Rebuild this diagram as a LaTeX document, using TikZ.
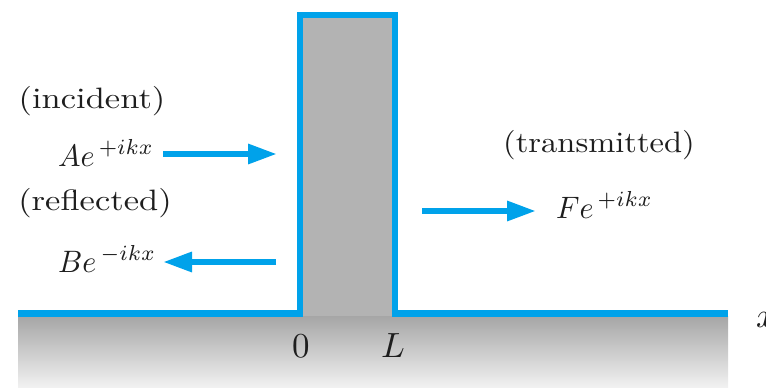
\documentclass[tikz,border=0pt]{standalone}
\usetikzlibrary{arrows.meta}
\definecolor{wblue}{RGB}{0,162,234}
\definecolor{txt}{RGB}{30,30,30}
\definecolor{barr}{RGB}{179,179,179}
\tikzset{
  potential/.style={draw=wblue, line width=6.5pt, line join=miter},
  wave/.style={draw=wblue, line width=6pt, -{Triangle[length=29pt,width=19pt]}, shorten >=-1pt},
  lbl/.style={inner sep=0pt, anchor=base, text=txt},
  mth/.style={inner sep=0pt, anchor=base west, text=txt},
  axl/.style={inner sep=0pt, anchor=base, text=txt}
}
\newcommand{\lbltext}[2]{\scalebox{#1}[2.95]{#2}}
\newcommand{\mthtext}[1]{\scalebox{3.0}[3.1]{#1}}
\newcommand{\axltext}[1]{\scalebox{3.5}{#1}}
\begin{document}
\begin{tikzpicture}[x=1pt,y=-1pt]
\useasboundingbox (0,0) rectangle (766,388);
% shaded ground
\shade[top color=black!35, bottom color=black!5] (18,316) rectangle (728,388);
% barrier interior
\fill[barr] (300,15) rectangle (395,316);
% potential outline
\coordinate (p1) at (18,313.5);
\coordinate (p2) at (300,313.5);
\coordinate (p3) at (300,15);
\coordinate (p4) at (395,15);
\coordinate (p5) at (395,313.5);
\coordinate (p6) at (728,313.5);
\draw[potential] (p1) -- (p2) -- (p3) -- (p4) -- (p5) -- (p6);
% arrows
\coordinate (ia) at (163,154); \coordinate (ib) at (276,154);
\coordinate (ra) at (276,262); \coordinate (rb) at (164,262);
\coordinate (ta) at (422,211); \coordinate (tb) at (535,211);
\draw[wave] (ia) -- (ib);
\draw[wave] (ra) -- (rb);
\draw[wave] (ta) -- (tb);
% labels
\node[lbl] (inc) at (92,108) {\lbltext{3.45}{(incident)}};
\node[lbl] (ref) at (95,210) {\lbltext{3.45}{(reflected)}};
\node[lbl] (tra) at (599,152) {\lbltext{3.25}{(transmitted)}};
\node[mth] (A) at (58,166) {\mthtext{$Ae^{\,+ikx}$}};
\node[mth] (B) at (58,272) {\mthtext{$Be^{\,-ikx}$}};
\node[mth] (F) at (556,218) {\mthtext{$Fe^{\,+ikx}$}};
\node[axl] (zero) at (301,357) {\axltext{0}};
\node[axl] (L) at (393,357) {\axltext{$L$}};
\node[axl, anchor=base west] (x) at (756,327) {\axltext{$x$}};
\end{tikzpicture}
\end{document}
